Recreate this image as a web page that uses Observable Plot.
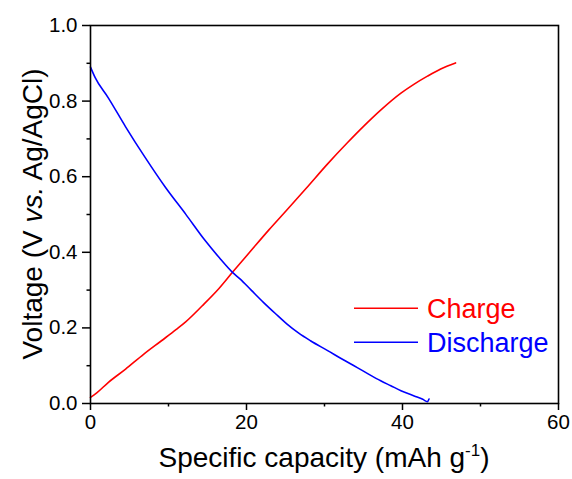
<!DOCTYPE html>
<html>
<head>
<meta charset="utf-8">
<script src="https://cdn.jsdelivr.net/npm/d3@7"></script>
<script src="https://cdn.jsdelivr.net/npm/@observablehq/plot@0.6"></script>
<style>
  html, body { margin: 0; padding: 0; background: #fff; }
  #chart { width: 572px; height: 479px; }
</style>
</head>
<body>
<div id="chart"></div>
<script>
// ---- data ----
const chargeCapacity = [0, 0.8, 2.3, 4.5, 6.8, 9.1, 11.0, 12.2, 14.3, 16.5, 18.2, 20.4, 22.9, 25.0, 27.6, 30.4, 32.9, 35.1, 37.2, 39.8, 41.5, 43.2, 44.9, 46.8];
const chargeVoltage  = [0.016, 0.028, 0.056, 0.091, 0.130, 0.166, 0.196, 0.216, 0.258, 0.305, 0.347, 0.400, 0.460, 0.508, 0.568, 0.634, 0.689, 0.735, 0.776, 0.821, 0.845, 0.866, 0.885, 0.901];

const dischargeCapacity = [0, 0.6, 2.3, 4.5, 7.0, 9.6, 12.2, 14.7, 16.5, 18.2, 19.2, 20.6, 22.2, 23.7, 25.2, 26.7, 28.2, 30.4, 32.3, 34.2, 35.7, 37.2, 38.5, 39.8, 41.5, 42.6, 43.2, 43.4];
const dischargeVoltage  = [0.890, 0.862, 0.808, 0.732, 0.651, 0.572, 0.501, 0.431, 0.386, 0.347, 0.329, 0.300, 0.267, 0.238, 0.210, 0.186, 0.166, 0.140, 0.117, 0.095, 0.077, 0.060, 0.047, 0.034, 0.020, 0.011, 0.005, 0.012];

const xMajorTicks = [0, 20, 40, 60];
const xMinorTicks = [10, 30, 50];
const yMajorTicks = [0, 0.2, 0.4, 0.6, 0.8, 1.0];
const yMinorTicks = [0.1, 0.3, 0.5, 0.7, 0.9];

const seriesNames = ["Charge", "Discharge"];
const seriesColors = ["#ff0000", "#0000ff"];

const charge = chargeCapacity.map((c, i) => ({c, v: chargeVoltage[i]}));
const discharge = dischargeCapacity.map((c, i) => ({c, v: dischargeVoltage[i]}));

const W = 572, H = 479;
const mL = 90, mR = 14, mT = 25, mB = 76;

const plot = Plot.plot({
  width: W, height: H,
  marginLeft: mL, marginRight: mR, marginTop: mT, marginBottom: mB,
  style: {fontFamily: "'Liberation Sans', Arial, sans-serif", fontSize: "20px", color: "#000", background: "#fff", overflow: "visible"},
  x: {domain: [0, 60]},
  y: {domain: [0, 1]},
  marks: [
    Plot.axisX({ticks: xMajorTicks, tickSize: 7, tickPadding: 4, tickFormat: d => String(d), label: null, strokeWidth: 1.5, fontSize: 20.5}),
    Plot.axisX({ticks: xMinorTicks, tickSize: 3.5, tickFormat: () => "", label: null, strokeWidth: 1.5}),
    Plot.axisY({ticks: yMajorTicks, tickSize: 8, tickPadding: 5, tickFormat: d3.format(".1f"), label: null, strokeWidth: 1.5, fontSize: 20.5}),
    Plot.axisY({ticks: yMinorTicks, tickSize: 3.5, tickFormat: () => "", label: null, strokeWidth: 1.5}),
    Plot.line(charge, {x: "c", y: "v", stroke: seriesColors[0], strokeWidth: 1.6, curve: "monotone-x"}),
    Plot.line(discharge, {x: "c", y: "v", stroke: seriesColors[1], strokeWidth: 1.6, curve: "monotone-x"}),
    Plot.frame({stroke: "#000", strokeWidth: 1.6})
  ]
});

document.getElementById("chart").appendChild(plot);

const svg = d3.select(plot);
const ff = "'Liberation Sans', Arial, sans-serif";

// x-axis title
const xt = svg.append("text")
  .attr("x", (mL + (W - mR)) / 2)
  .attr("y", 467)
  .attr("text-anchor", "middle")
  .attr("font-family", ff)
  .attr("font-size", 28)
  .attr("fill", "#000");
xt.append("tspan").text("Specific capacity (mAh g");
xt.append("tspan").attr("font-size", 17).attr("dy", -11).text("-1");
xt.append("tspan").attr("dy", 11).text(")");

// y-axis title
const yt = svg.append("text")
  .attr("transform", `translate(42,${(mT + (H - mB)) / 2}) rotate(-90)`)
  .attr("text-anchor", "middle")
  .attr("font-family", ff)
  .attr("font-size", 28)
  .attr("fill", "#000");
yt.append("tspan").text("Voltage (V ");
yt.append("tspan").attr("font-style", "italic").text("vs.");
yt.append("tspan").text(" Ag/AgCl)");

// legend
const legendY = [308.3, 342.3];
seriesNames.forEach((name, i) => {
  svg.append("line")
    .attr("x1", 354).attr("x2", 418)
    .attr("y1", legendY[i]).attr("y2", legendY[i])
    .attr("stroke", seriesColors[i]).attr("stroke-width", 1.6);
  svg.append("text")
    .attr("x", 427).attr("y", legendY[i])
    .attr("dy", "0.36em")
    .attr("text-anchor", "start")
    .attr("font-family", ff)
    .attr("font-size", 27)
    .attr("fill", seriesColors[i])
    .text(name);
});
</script>
</body>
</html>
